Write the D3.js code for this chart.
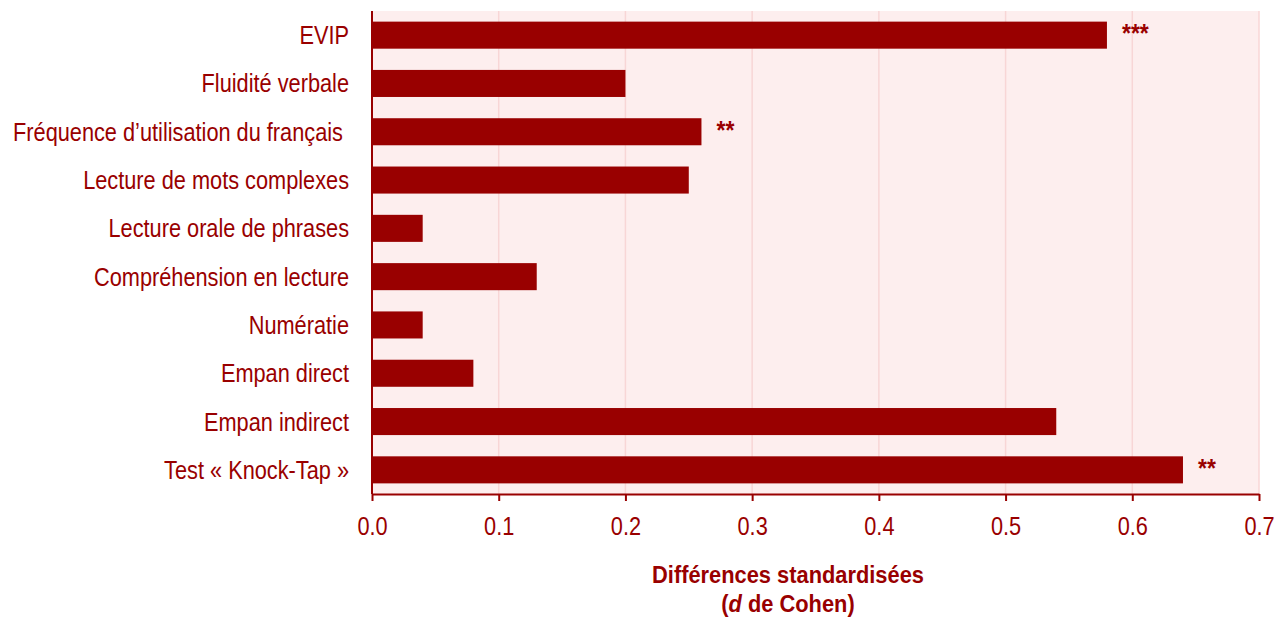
<!DOCTYPE html>
<html>
<head>
<meta charset="utf-8">
<script src="https://cdn.jsdelivr.net/npm/d3@7"></script>
<style>
  body { margin: 0; background: #fff; }
  svg text { font-family: "Liberation Sans Narrow", "Arial Narrow", "Liberation Sans", Arial, sans-serif; fill: #990000; }
</style>
</head>
<body>
<svg id="chart" width="1287" height="618"></svg>
<script>
const categories = [
  "EVIP",
  "Fluidité verbale",
  "Fréquence d’utilisation du français ",
  "Lecture de mots complexes",
  "Lecture orale de phrases",
  "Compréhension en lecture",
  "Numératie",
  "Empan direct",
  "Empan indirect",
  "Test « Knock-Tap »"
];
const values = [0.58, 0.20, 0.26, 0.25, 0.04, 0.13, 0.04, 0.08, 0.54, 0.64];
const signif = ["***", "", "**", "", "", "", "", "", "", "**"];
const xTicks = [0, 0.1, 0.2, 0.3, 0.4, 0.5, 0.6, 0.7];

const MARGIN = { TOP: 11, LEFT: 372, RIGHT: 28, BOTTOM: 124 };
const width = 1287, height = 618;
const NARROW = 0.87; // no narrow font installed, squeeze the sans instead

const svg = d3.select("#chart");

const x = d3.scaleLinear()
  .domain([0, 0.7])
  .range([MARGIN.LEFT, width - MARGIN.RIGHT]);

const y = d3.scaleBand()
  .domain(categories)
  .range([MARGIN.TOP, height - MARGIN.BOTTOM])
  .paddingInner(0.44)
  .paddingOuter(0.22);

// plot background
svg.append("rect")
  .attr("x", x(0))
  .attr("y", MARGIN.TOP)
  .attr("width", x(0.7) - x(0))
  .attr("height", height - MARGIN.BOTTOM - MARGIN.TOP)
  .attr("fill", "#fdeeee");

// gridlines
svg.append("g")
  .selectAll("line")
  .data(xTicks.slice(1))
  .join("line")
  .attr("x1", d => x(d)).attr("x2", d => x(d))
  .attr("y1", MARGIN.TOP).attr("y2", height - MARGIN.BOTTOM)
  .attr("stroke", "#f8d6d6")
  .attr("stroke-width", 1.5);

// bars
svg.append("g")
  .selectAll("rect")
  .data(values)
  .join("rect")
  .attr("x", x(0))
  .attr("y", (d, i) => y(categories[i]))
  .attr("width", d => x(d) - x(0))
  .attr("height", y.bandwidth())
  .attr("fill", "#990000");

// significance stars
svg.append("g")
  .selectAll("text")
  .data(values)
  .join("text")
  .attr("transform", (d, i) => `translate(${x(d) + 15},${y(categories[i]) + y.bandwidth() / 2 + 7}) scale(0.92,1)`)
  .attr("font-size", 25)
  .attr("font-weight", "bold")
  .text((d, i) => signif[i]);

// x axis
const xAxis = svg.append("g")
  .attr("transform", `translate(0,${height - MARGIN.BOTTOM})`)
  .call(d3.axisBottom(x).tickValues(xTicks).tickFormat(d3.format(".1f")).tickSize(7).tickSizeOuter(0));
xAxis.select(".domain").attr("stroke", "#990000").attr("stroke-width", 2);
xAxis.selectAll(".tick line").attr("stroke", "#990000").attr("stroke-width", 2);
xAxis.selectAll(".tick text")
  .attr("font-size", 25)
  .attr("y", 41)
  .attr("dy", 0)
  .attr("transform", `scale(${NARROW},1)`)
  .attr("fill", "#990000");

// y axis line
svg.append("line")
  .attr("x1", x(0)).attr("x2", x(0))
  .attr("y1", MARGIN.TOP).attr("y2", height - MARGIN.BOTTOM)
  .attr("stroke", "#990000")
  .attr("stroke-width", 2);

// category labels
svg.append("g")
  .selectAll("text")
  .data(categories)
  .join("text")
  .attr("transform", d => `translate(349,${y(d) + y.bandwidth() / 2 + 9}) scale(${NARROW},1)`)
  .attr("text-anchor", "end")
  .attr("font-size", 25)
  .style("white-space", "pre")
  .text(d => d);

// axis title
const title = svg.append("text")
  .attr("transform", `translate(788,583) scale(0.91,1)`)
  .attr("text-anchor", "middle")
  .attr("font-size", 24)
  .attr("font-weight", "bold");
title.append("tspan").attr("x", 0).text("Différences standardisées");
const t2 = title.append("tspan").attr("x", 0).attr("dy", "1.2em");
t2.append("tspan").text("(");
t2.append("tspan").attr("font-style", "italic").text("d");
t2.append("tspan").text(" de Cohen)");
</script>
</body>
</html>
